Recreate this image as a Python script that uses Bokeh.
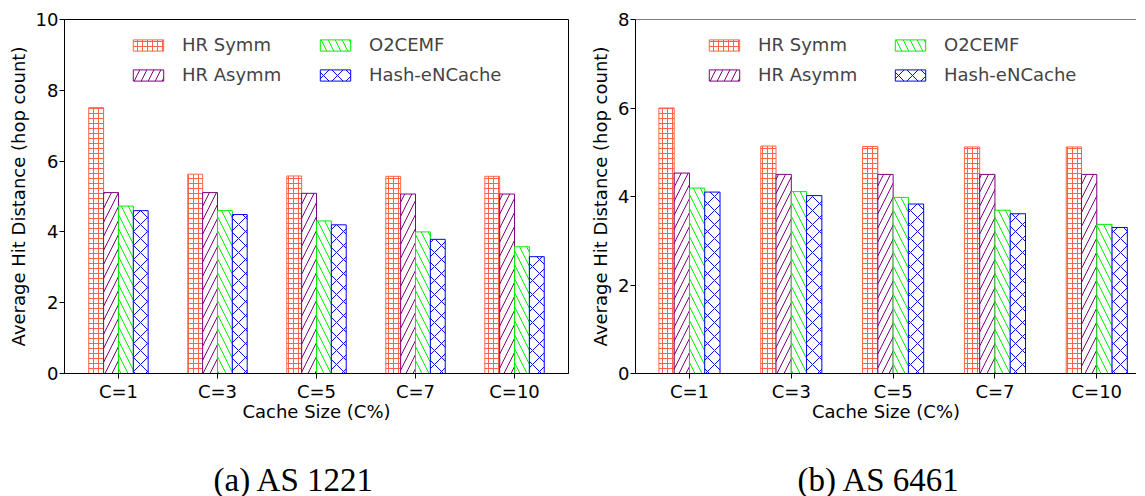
from bokeh.plotting import figure
from bokeh.models import ColumnDataSource, FixedTicker, Legend, LegendItem, Title, Span
from bokeh.layouts import row
from bokeh.transform import dodge
from bokeh.embed import file_html
from bokeh.resources import INLINE

categories = ["C=1", "C=3", "C=5", "C=7", "C=10"]
series_names = ["HR Symm", "HR Asymm", "O2CEMF", "Hash-eNCache"]

as1221_hr_symm = [7.51, 5.63, 5.58, 5.57, 5.57]
as1221_hr_asymm = [5.11, 5.11, 5.09, 5.07, 5.07]
as1221_o2cemf = [4.73, 4.60, 4.31, 4.00, 3.58]
as1221_hash = [4.60, 4.49, 4.20, 3.79, 3.30]

as6461_hr_symm = [6.00, 5.14, 5.13, 5.12, 5.12]
as6461_hr_asymm = [4.53, 4.50, 4.50, 4.50, 4.50]
as6461_o2cemf = [4.19, 4.11, 3.98, 3.69, 3.37]
as6461_hash = [4.10, 4.02, 3.83, 3.61, 3.30]

y_ticks_a = [0, 2, 4, 6, 8, 10]
y_ticks_b = [0, 2, 4, 6, 8]

colors = ["#ff6347", "#800080", "#00ee00", "#0000ff"]
hatches = ["+", "/", "\\", "x"]
hatch_scales = [5, 14, 14, 14]
offsets = [-0.225, -0.075, 0.075, 0.225]
BAR_W = 0.15

FONT = "DejaVu Sans"
FS = "18px"


def make_chart(series, y_ticks, caption, frame_width, x_start, x_end, border_left, border_right,
               legend_x1, legend_x2, cap_offset, full_outline):
    data = dict(x=list(range(len(categories))))
    for i, s in enumerate(series):
        data[f"s{i}"] = s
    src = ColumnDataSource(data)
    p = figure(frame_width=frame_width, frame_height=354,
               x_range=(x_start, x_end), y_range=(0, y_ticks[-1]),
               output_backend="svg", toolbar_location=None,
               min_border_left=border_left, min_border_top=19,
               min_border_right=border_right, min_border_bottom=0,
               background_fill_color="white", border_fill_color="white")
    p.grid.visible = False
    rs = []
    for i in range(4):
        r = p.vbar(x=dodge("x", offsets[i], range=p.x_range), top=f"s{i}", width=BAR_W,
                   source=src, fill_color="white", line_color=colors[i], line_width=1,
                   hatch_pattern=hatches[i], hatch_color=colors[i],
                   hatch_scale=hatch_scales[i], hatch_weight=1)
        rs.append(r)

    p.xaxis.ticker = FixedTicker(ticks=list(range(len(categories))))
    p.xaxis.major_label_overrides = {i: c for i, c in enumerate(categories)}
    p.yaxis.ticker = FixedTicker(ticks=y_ticks)
    for ax in (p.xaxis[0], p.yaxis[0]):
        ax.minor_tick_line_color = None
        ax.major_tick_in = 0
        ax.major_tick_out = 5
        ax.axis_line_color = "black"
        ax.major_tick_line_color = "black"
        ax.major_label_text_font = FONT
        ax.major_label_text_font_size = FS
        ax.major_label_text_color = "black"
        ax.axis_label_text_font = FONT
        ax.axis_label_text_font_size = FS
        ax.axis_label_text_font_style = "normal"
        ax.axis_label_text_color = "black"
    p.xaxis.major_label_standoff = 2
    p.yaxis.major_label_standoff = 1
    p.xaxis.axis_label = "Cache Size (C%)"
    p.yaxis.axis_label = "Average Hit Distance (hop count)"
    p.xaxis.axis_label_standoff = -4
    p.yaxis.axis_label_standoff = 4

    if full_outline:
        p.outline_line_color = "black"
        p.outline_line_width = 1
        p.outline_line_alpha = 1
    else:
        p.outline_line_color = None
        p.add_layout(Span(location=y_ticks[-1], dimension="width", line_color="black", line_width=1))

    for k, lx in enumerate((legend_x1, legend_x2)):
        items = [LegendItem(label=series_names[2 * k + j], renderers=[rs[2 * k + j]]) for j in range(2)]
        lg = Legend(items=items, location=(lx, 288), glyph_width=38, glyph_height=14,
                    label_standoff=15, spacing=9, padding=0, margin=0, label_height=20,
                    border_line_color=None, background_fill_alpha=0,
                    label_text_font=FONT, label_text_font_size=FS)
        p.add_layout(lg)

    cap = Title(text=caption, align="left", offset=cap_offset, standoff=71,
                text_font="Liberation Serif", text_font_size="33px",
                text_font_style="normal", text_color="black")
    p.add_layout(cap, "below")
    return p


p1 = make_chart([as1221_hr_symm, as1221_hr_asymm, as1221_o2cemf, as1221_hash], y_ticks_a,
                "(a) AS 1221", 504, -0.545, 4.545, 64, 6, 65, 252, 149, True)
p2 = make_chart([as6461_hr_symm, as6461_hr_asymm, as6461_o2cemf, as6461_hash], y_ticks_b,
                "(b) AS 6461", 501, -0.53, 4.39, 61, 0, 70, 256, 162, False)

layout = row(p1, p2, spacing=0)
open("out.html", "w").write(file_html(layout, INLINE))
